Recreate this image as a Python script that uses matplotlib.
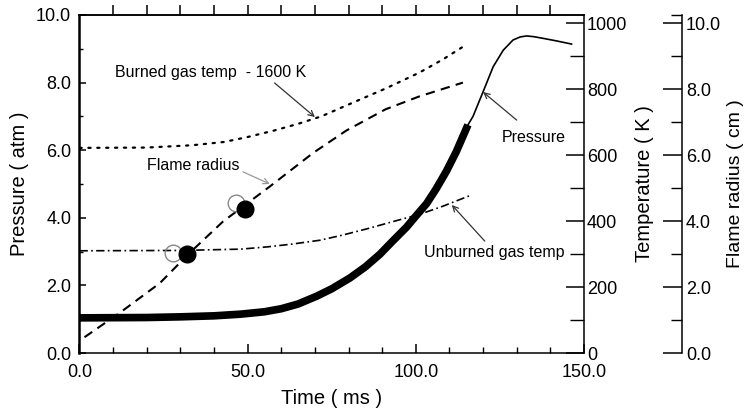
import matplotlib
matplotlib.use("Agg")
import matplotlib.pyplot as plt
from matplotlib.ticker import FixedLocator, FormatStrFormatter

plt.rcParams["font.family"] = ["Liberation Sans", "DejaVu Sans"]

# ── data ─────────────────────────────────────────────────────────────────
# pressure (atm): thick part, then thin part after ignition peak
p_time_thick = [0, 20, 30, 40, 48, 55, 60, 65, 70.5, 75, 80.4, 85, 89.3, 93,
                97.2, 100, 103.2, 106, 109.1, 112, 115.5]
p_thick = [1.04, 1.05, 1.07, 1.10, 1.15, 1.22, 1.31, 1.45, 1.68, 1.90, 2.22,
           2.55, 2.92, 3.30, 3.72, 4.05, 4.42, 4.85, 5.38, 5.95, 6.75]
p_time_thin = [115.5, 117, 120, 123, 126, 128.9, 131, 132.9, 135, 137.8, 142, 146.3]
p_thin = [6.75, 7.00, 7.73, 8.47, 8.96, 9.26, 9.35, 9.38, 9.36, 9.31, 9.23, 9.14]

# flame radius (cm)
r_time = [1.5, 12, 23.9, 32.8, 42.7, 56.6, 69.5, 79.4, 91, 101, 114]
radius = [0.48, 1.22, 2.12, 3.04, 3.99, 5.05, 6.07, 6.75, 7.39, 7.78, 8.20]

# burned gas temperature minus 1600 K (K)
tb_time = [0, 20, 33.5, 43, 50, 58, 65, 72, 81, 91, 101, 108, 115]
temp_burned = [622, 623, 630, 640, 655, 675, 695, 718, 758, 802, 850, 890, 935]

# unburned gas temperature (K)
tu_time = [0, 30, 48, 56, 63, 71.5, 78, 86, 93, 101, 108, 116]
temp_unburned = [310, 311, 315, 322, 330, 342, 357, 378, 398, 420, 445, 477]

# measured flame radius points
open_time = [27.8, 46.4]
open_radius = [3.04, 4.56]
filled_time = [31.9, 49.3]
filled_radius = [3.01, 4.38]

fig = plt.figure(figsize=(7.47, 4.2), dpi=100)
ax = fig.add_axes([0.1064, 0.1595, 0.6754, 0.8048])
ax_t = ax.twinx()
ax_r = ax.twinx()

# ── curves ───────────────────────────────────────────────────────────────
ax.plot(p_time_thick, p_thick, color="black", lw=5.5, solid_capstyle="butt",
        solid_joinstyle="round", zorder=5)
ax.plot(p_time_thin, p_thin, color="black", lw=1.2, solid_joinstyle="round", zorder=5)

ax_t.plot(tb_time, temp_burned, color="black", lw=1.6, dashes=(1, 3),
          dash_capstyle="round")
ax_t.plot(tu_time, temp_unburned, color="black", lw=1.2, dashes=(5, 2, 1, 2))

ax_r.plot(r_time, radius, color="black", lw=1.5, dashes=(4.5, 3))
ax_r.plot(open_time, open_radius, "o", ms=12, mfc="none", mec="#888888", mew=1.0)
ax_r.plot(filled_time, filled_radius, "o", ms=12, mfc="black", mec="black")

# ── main axes (pressure / time) ──────────────────────────────────────────
ax.set_xlim(0, 150)
ax.set_ylim(0, 10)
ax.xaxis.set_major_locator(FixedLocator([0, 50, 100, 150]))
ax.xaxis.set_minor_locator(FixedLocator(range(10, 150, 10)))
ax.xaxis.set_major_formatter(FormatStrFormatter("%.1f"))
ax.yaxis.set_major_locator(FixedLocator([0, 2, 4, 6, 8, 10]))
ax.yaxis.set_minor_locator(FixedLocator([1, 3, 5, 7, 9]))
ax.yaxis.set_major_formatter(FormatStrFormatter("%.1f"))
ax.tick_params(axis="x", which="major", direction="in", length=6.5, width=1.1,
               labelsize=13, pad=8)
ax.tick_params(axis="x", which="minor", direction="in", length=4, width=1.0)
ax.tick_params(axis="y", which="major", direction="in", length=5, width=1.1,
               labelsize=13, pad=6)
ax.tick_params(axis="y", which="minor", direction="in", length=3, width=1.0)
ax.set_xlabel("Time ( ms )", fontsize=14.5, labelpad=6)
ax.set_ylabel("Pressure ( atm )", fontsize=14.5, labelpad=5)
ax.spines["right"].set_visible(False)
ax.spines["left"].set_linewidth(1.8)
for s in ("top", "bottom"):
    ax.spines[s].set_linewidth(1.1)

top = ax.secondary_xaxis("top")
top.xaxis.set_major_locator(FixedLocator(range(10, 150, 10)))
top.tick_params(direction="out", length=7, width=1.1, labeltop=False)
top.spines["top"].set_linewidth(1.1)

# ── temperature axis ─────────────────────────────────────────────────────
ax_t.set_ylim(0, 1025)
ax_t.yaxis.set_major_locator(FixedLocator([0, 200, 400, 600, 800, 1000]))
ax_t.yaxis.set_minor_locator(FixedLocator([100, 300, 500, 700, 900]))
ax_t.tick_params(axis="y", which="major", direction="in", length=13, width=1.1,
                 labelsize=13, pad=2)
ax_t.tick_params(axis="y", which="minor", direction="in", length=10, width=1.0)
ax_t.set_ylabel("Temperature ( K )", fontsize=14.5, labelpad=6)
for s in ("left", "top", "bottom"):
    ax_t.spines[s].set_visible(False)
ax_t.spines["right"].set_linewidth(1.1)

# ── flame radius axis ────────────────────────────────────────────────────
ax_r.spines["right"].set_position(("axes", 1.194))
ax_r.set_ylim(0, 10.25)
ax_r.yaxis.set_major_locator(FixedLocator([0, 2, 4, 6, 8, 10]))
ax_r.yaxis.set_minor_locator(FixedLocator([1, 3, 5, 7, 9, 10.25]))
ax_r.yaxis.set_major_formatter(FormatStrFormatter("%.1f"))
ax_r.tick_params(axis="y", which="major", direction="in", length=14, width=1.1,
                 labelsize=13, pad=3)
ax_r.tick_params(axis="y", which="minor", direction="in", length=8, width=1.0)
ax_r.set_ylabel("Flame radius ( cm )", fontsize=14, labelpad=4)
for s in ("left", "top", "bottom"):
    ax_r.spines[s].set_visible(False)
ax_r.spines["right"].set_linewidth(1.1)

# ── labels with arrows ───────────────────────────────────────────────────
arrow = dict(arrowstyle="->", color="#333333", lw=0.9, shrinkA=0, shrinkB=0)
ax.text(10.5, 8.31, "Burned gas temp  - 1600 K", fontsize=11.5, va="center")
ax.annotate("", xy=(70, 6.98), xytext=(58, 7.99), arrowprops=arrow)

ax.text(20, 5.56, "Flame radius", fontsize=11.5, va="center")
ax.annotate("", xy=(56.6, 5.0), xytext=(48.6, 5.36),
            arrowprops=dict(arrow, color="#999999"))

ax.text(125.6, 6.39, "Pressure", fontsize=11.5, va="center")
ax.annotate("", xy=(120, 7.72), xytext=(130, 6.89), arrowprops=arrow)

ax.text(102.4, 2.96, "Unburned gas temp", fontsize=11.5, va="center")
ax.annotate("", xy=(110.7, 4.38), xytext=(120.5, 3.31), arrowprops=arrow)

plt.savefig("out.png", dpi=100)
plt.close()
